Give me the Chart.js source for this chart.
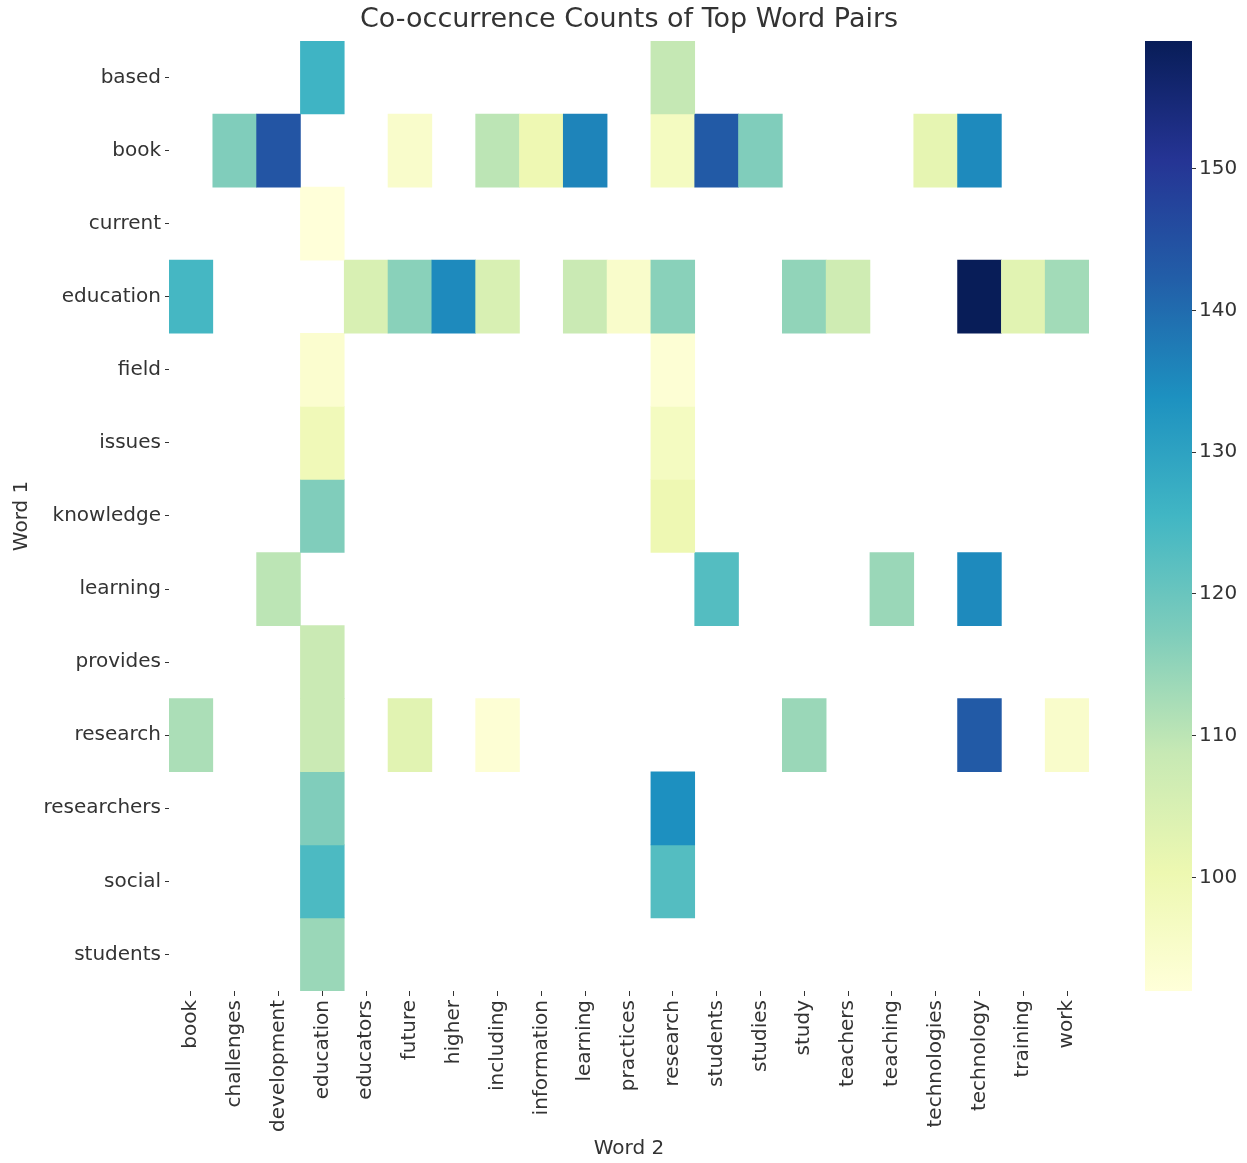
<!DOCTYPE html>
<html lang="en">
<head>
<meta charset="UTF-8">
<title>Co-occurrence Counts of Top Word Pairs</title>
<script src="https://cdn.jsdelivr.net/npm/chart.js"></script>
<style>
  body { margin: 0; background: #fff; }
  #wrap { position: relative; width: 1247px; height: 1163px; }
  #heatmap { position: absolute; left: 0; top: 0; }
  #colorbar { position: absolute; left: 1120px; top: 0; }
</style>
</head>
<body>
<div id="wrap">
  <canvas id="heatmap" width="1247" height="1163"></canvas>
  <canvas id="colorbar" width="127" height="1163"></canvas>
</div>
<script>
const _ = null;

// rows (Word 1)
const word1 = ['based', 'book', 'current', 'education', 'field', 'issues', 'knowledge',
  'learning', 'provides', 'research', 'researchers', 'social', 'students'];

// columns (Word 2)
const word2 = ['book', 'challenges', 'development', 'education', 'educators', 'future',
  'higher', 'including', 'information', 'learning', 'practices', 'research', 'students',
  'studies', 'study', 'teachers', 'teaching', 'technologies', 'technology', 'training', 'work'];

// pair counts, one row per word1 entry, null where the pair doesn't occur
const counts = [
  [_, _, _, 126, _, _, _, _, _, _, _, 109, _, _, _, _, _, _, _, _, _],
  [_, 117, 144, _, _, 95, _, 110, 100, 136, _, 97, 143, 117, _, _, _, 102, 135, _, _],
  [_, _, _, 92, _, _, _, _, _, _, _, _, _, _, _, _, _, _, _, _, _],
  [125, _, _, _, 105, 116, 135, 105, _, 108, 95, 116, _, _, 115, 107, _, _, 159, 103, 113],
  [_, _, _, 94, _, _, _, _, _, _, _, 93, _, _, _, _, _, _, _, _, _],
  [_, _, _, 99, _, _, _, _, _, _, _, 97, _, _, _, _, _, _, _, _, _],
  [_, _, _, 117, _, _, _, _, _, _, _, 100, _, _, _, _, _, _, _, _, _],
  [_, _, 110, _, _, _, _, _, _, _, _, _, 123, _, _, _, 114, _, 135, _, _],
  [_, _, _, 108, _, _, _, _, _, _, _, _, _, _, _, _, _, _, _, _, _],
  [112, _, _, 108, _, 103, _, 93, _, _, _, _, _, _, 114, _, _, _, 143, _, 95],
  [_, _, _, 117, _, _, _, _, _, _, _, 134, _, _, _, _, _, _, _, _, _],
  [_, _, _, 124, _, _, _, _, _, _, _, 123, _, _, _, _, _, _, _, _, _],
  [_, _, _, 114, _, _, _, _, _, _, _, _, _, _, _, _, _, _, _, _, _]
];

// colorbar tick labels
const colorTicks = [100, 110, 120, 130, 140, 150];

// YlGnBu colormap stops
const ylgnbu = [
  [255, 255, 217], [237, 248, 177], [199, 233, 180], [127, 205, 187], [65, 182, 196],
  [29, 145, 192], [34, 94, 168], [37, 52, 148], [8, 29, 88]
];

const allValues = counts.flat().filter(v => v !== null);
const vmin = Math.min(...allValues);
const vmax = Math.max(...allValues);

function cmap(t) {
  t = Math.max(0, Math.min(1, t));
  const pos = t * (ylgnbu.length - 1);
  const i = Math.min(Math.floor(pos), ylgnbu.length - 2);
  const f = pos - i;
  const a = ylgnbu[i], b = ylgnbu[i + 1];
  const c = a.map((x, k) => Math.round(x + (b[k] - x) * f));
  return `rgb(${c[0]},${c[1]},${c[2]})`;
}

Chart.defaults.font.family = '"DejaVu Sans", sans-serif';
Chart.defaults.color = '#333';

const labelFont = { size: 20 };

// each row is a dataset of floating bars spanning [row, row + 1]
const datasets = word1.map((w, r) => ({
  label: w,
  data: counts[r].map(v => v === null ? null : [r, r + 1]),
  backgroundColor: counts[r].map(v => v === null ? 'rgba(0,0,0,0)' : cmap((v - vmin) / (vmax - vmin))),
  borderWidth: 0,
  grouped: false,
  barPercentage: 1,
  categoryPercentage: 1
}));

new Chart(document.getElementById('heatmap'), {
  type: 'bar',
  data: { labels: word2, datasets: datasets },
  options: {
    responsive: false,
    animation: false,
    layout: { padding: { right: 158 } },
    plugins: {
      legend: { display: false },
      tooltip: { enabled: false },
      title: {
        display: true,
        text: 'Co-occurrence Counts of Top Word Pairs',
        fullSize: false,
        color: '#333',
        font: { size: 27, weight: 'normal' },
        padding: { top: 4, bottom: 4.5 }
      }
    },
    scales: {
      x: {
        type: 'category',
        grid: { display: true, offset: false, drawOnChartArea: false, drawTicks: true, tickLength: 5, tickColor: '#333' },
        border: { display: false },
        ticks: { minRotation: 90, maxRotation: 90, autoSkip: false, padding: 4, font: labelFont },
        title: { display: true, text: 'Word 2', font: labelFont, padding: { top: 0, bottom: 2 } },
        afterFit: s => { s.height = 172; }
      },
      y: {
        type: 'linear',
        reverse: true,
        min: 0,
        max: word1.length,
        grid: { display: true, drawOnChartArea: false, drawTicks: true, tickLength: 4, tickColor: '#333' },
        border: { display: false },
        afterBuildTicks: s => { s.ticks = word1.map((w, i) => ({ value: i + 0.5 })); },
        ticks: { autoSkip: false, padding: 4, font: labelFont, callback: v => word1[Math.floor(v)] },
        title: { display: true, text: 'Word 1', font: labelFont, padding: { top: 10, bottom: 0 } },
        afterFit: s => { s.width = 169; }
      }
    }
  }
});

// colorbar: one floating bar filled with the colormap gradient
function colorbarFill(ctx) {
  const chart = ctx.chart;
  if (!chart.chartArea) return 'rgba(0,0,0,0)';
  const y = chart.scales.y;
  const g = chart.ctx.createLinearGradient(0, y.getPixelForValue(vmin), 0, y.getPixelForValue(vmax));
  ylgnbu.forEach((c, i) => g.addColorStop(i / (ylgnbu.length - 1), `rgb(${c[0]},${c[1]},${c[2]})`));
  return g;
}

new Chart(document.getElementById('colorbar'), {
  type: 'bar',
  data: {
    labels: [''],
    datasets: [{
      data: [[vmin, vmax]],
      backgroundColor: colorbarFill,
      borderWidth: 0,
      barPercentage: 1,
      categoryPercentage: 1
    }]
  },
  options: {
    responsive: false,
    animation: false,
    layout: { padding: { left: 25, top: 41, bottom: 172 } },
    plugins: { legend: { display: false }, tooltip: { enabled: false } },
    scales: {
      x: { display: false },
      y: {
        position: 'right',
        min: vmin,
        max: vmax,
        grid: { display: true, drawOnChartArea: false, drawTicks: true, tickLength: 4, tickColor: '#333' },
        border: { display: false },
        afterBuildTicks: s => { s.ticks = colorTicks.map(v => ({ value: v })); },
        ticks: { padding: 3, font: labelFont },
        afterFit: s => { s.width = 55; }
      }
    }
  }
});
</script>
</body>
</html>
